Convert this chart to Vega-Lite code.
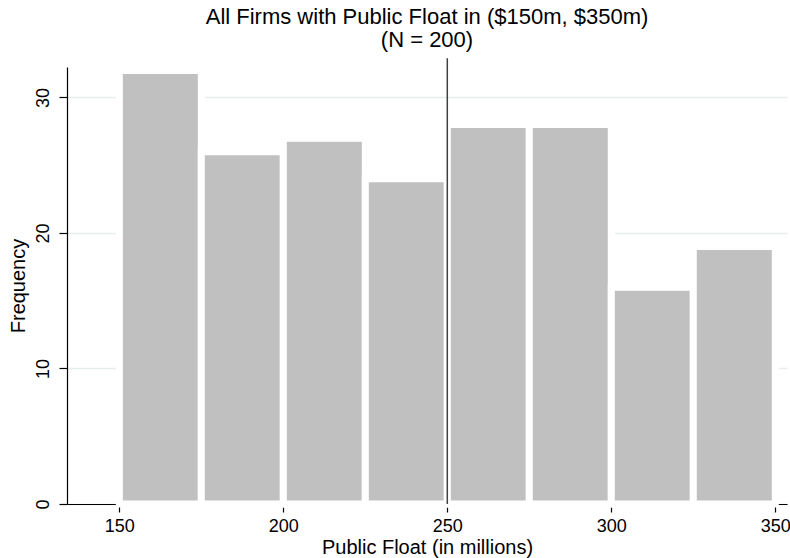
{
  "$schema": "https://vega.github.io/schema/vega-lite/v6.json",
  "autosize": "none",
  "width": 720,
  "height": 437,
  "padding": {"left": 67, "top": 67, "right": 3, "bottom": 54},
  "background": "white",
  "config": {
    "view": {"stroke": null},
    "font": "Liberation Sans"
  },
  "title": {
    "text": ["All Firms with Public Float in ($150m, $350m)", "(N = 200)"],
    "fontSize": 22,
    "fontWeight": "normal",
    "font": "Liberation Sans",
    "color": "black",
    "anchor": "middle",
    "frame": "group",
    "lineHeight": 23,
    "offset": 5
  },
  "datasets": {
    "bins": [
      {"start": 150, "end": 175, "freq": 32},
      {"start": 175, "end": 200, "freq": 26},
      {"start": 200, "end": 225, "freq": 27},
      {"start": 225, "end": 250, "freq": 24},
      {"start": 250, "end": 275, "freq": 28},
      {"start": 275, "end": 300, "freq": 28},
      {"start": 300, "end": 325, "freq": 16},
      {"start": 325, "end": 350, "freq": 19}
    ],
    "cut": [{"value": 250, "low": 0, "high": 32.9}]
  },
  "layer": [
    {
      "data": {"name": "bins"},
      "mark": {"type": "bar", "fill": "#c0c0c0", "stroke": "white", "strokeWidth": 7, "strokeJoin": "miter"},
      "encoding": {
        "x": {
          "field": "start", "type": "quantitative",
          "scale": {"domain": [134.05, 353.57], "nice": false, "zero": false},
          "axis": {
            "title": "Public Float (in millions)",
            "values": [150, 200, 250, 300, 350],
            "grid": false,
            "domainColor": "black", "domainWidth": 1.2,
            "tickColor": "black", "tickSize": 8, "tickWidth": 1.2,
            "labelFontSize": 18, "labelColor": "black", "labelPadding": 5,
            "titleFontSize": 20, "titleFontWeight": "normal", "titleColor": "black", "titlePadding": 2
          }
        },
        "x2": {"field": "end"},
        "y": {
          "field": "freq", "type": "quantitative",
          "scale": {"domain": [0, 32.25], "nice": false},
          "axis": {
            "title": "Frequency",
            "values": [0, 10, 20, 30],
            "grid": true, "gridColor": "#e6eef0", "gridWidth": 1.3,
            "domainColor": "black", "domainWidth": 1.2,
            "tickColor": "black", "tickSize": 8, "tickWidth": 1.2,
            "labelFontSize": 18, "labelColor": "black", "labelAngle": 270,
            "labelAlign": "center", "labelBaseline": "bottom", "labelPadding": 7,
            "titleFontSize": 20, "titleFontWeight": "normal", "titleColor": "black", "titlePadding": 6
          }
        },
        "y2": {"datum": 0}
      }
    },
    {
      "data": {"name": "cut"},
      "mark": {"type": "rule", "color": "#404040", "strokeWidth": 1.5},
      "encoding": {
        "x": {"field": "value", "type": "quantitative"},
        "y": {"field": "low", "type": "quantitative"},
        "y2": {"field": "high"}
      }
    }
  ]
}
